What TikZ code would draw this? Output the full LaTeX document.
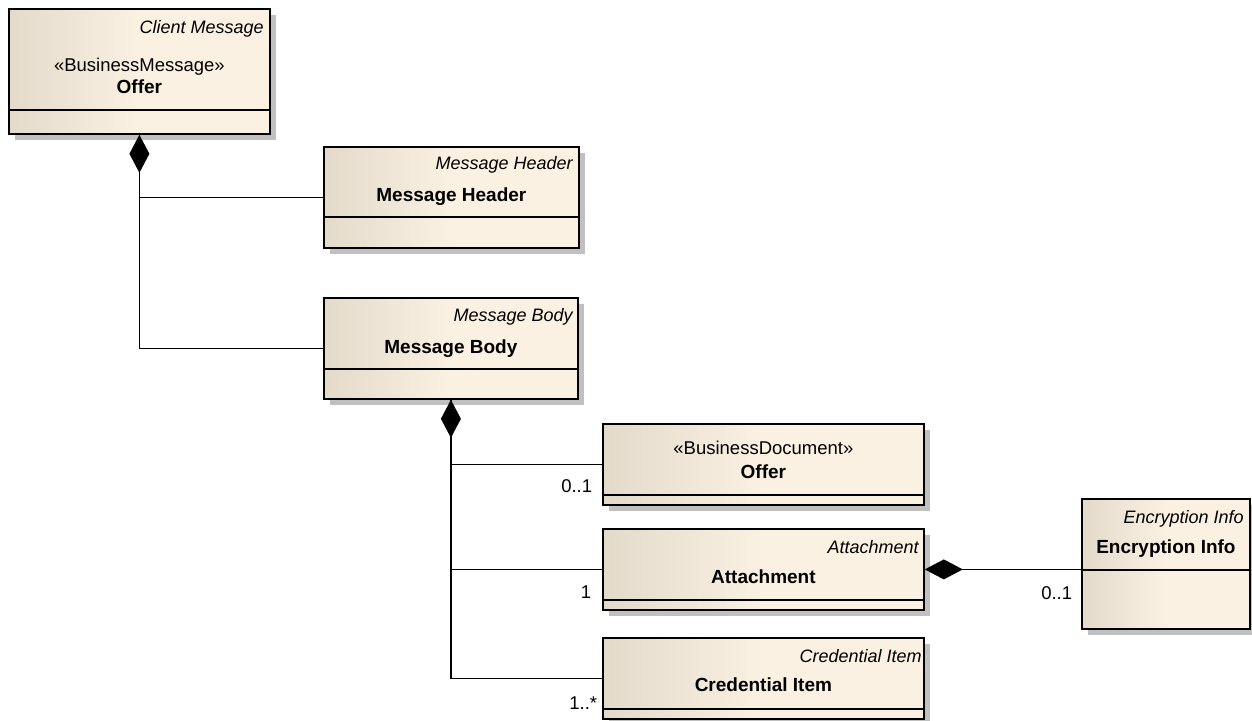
\documentclass[tikz,border=0pt]{standalone}
\usepackage{fontspec}
\setmainfont{Liberation Sans}
\usetikzlibrary{positioning,arrows.meta,shadows}
\definecolor{boxL}{RGB}{228,218,202}
\definecolor{boxR}{RGB}{251,241,227}
\definecolor{shadowgrey}{RGB}{192,192,192}

\begin{document}
\begin{tikzpicture}[
    x=1pt, y=-1pt,
    umlbox/.style={draw, line width=1.8pt, inner sep=0pt, anchor=north west,
        left color=boxL, right color=boxR, middle color=boxR,
        general shadow={fill=shadowgrey, shadow xshift=6pt, shadow yshift=-6pt}},
    divider/.style={line width=1.8pt},
    tag/.style={font=\fontsize{18}{20}\selectfont\itshape, inner sep=0pt, anchor=base east},
    cname/.style={font=\fontsize{19}{21}\selectfont\bfseries, inner sep=0pt, anchor=base},
    stereo/.style={font=\fontsize{18.5}{21}\selectfont, inner sep=0pt, anchor=base},
    mult/.style={font=\fontsize{18.5}{21}\selectfont, inner sep=0pt, anchor=base east},
    link/.style={line width=1.7pt},
    compose/.style={link, {Diamond[length=38pt, width=20pt]}-}
]
\useasboundingbox (0,0) rectangle (1252,720);

% classes
\node[umlbox, minimum width=261pt, minimum height=125pt] (client) at (8,8) {};
\node[umlbox, minimum width=255pt, minimum height=101pt] (header) at (323,146) {};
\node[umlbox, minimum width=254pt, minimum height=101pt] (body) at (323,297) {};
\node[umlbox, minimum width=321pt, minimum height=81pt] (offer) at (602,423) {};
\node[umlbox, minimum width=321pt, minimum height=81pt] (attach) at (602,528) {};
\node[umlbox, minimum width=321pt, minimum height=81pt] (cred) at (602,637) {};
\node[umlbox, minimum width=168pt, minimum height=130pt] (enc) at (1081,498) {};

% compartments
\draw[divider] ([yshift=25pt]client.south west) -- ([yshift=25pt]client.south east);
\draw[divider] ([yshift=32pt]header.south west) -- ([yshift=32pt]header.south east);
\draw[divider] ([yshift=31pt]body.south west) -- ([yshift=31pt]body.south east);
\draw[divider] ([yshift=11pt]offer.south west) -- ([yshift=11pt]offer.south east);
\draw[divider] ([yshift=11pt]attach.south west) -- ([yshift=11pt]attach.south east);
\draw[divider] ([yshift=11pt]cred.south west) -- ([yshift=11pt]cred.south east);
\draw[divider] ([yshift=60pt]enc.south west) -- ([yshift=60pt]enc.south east);

% texts
\node[tag] (clientTag) at ([xshift=-7pt,yshift=-25pt]client.north east) {Client Message};
\node[stereo] (clientSt) at ([yshift=-63pt]client.north) {«BusinessMessage»};
\node[cname] (clientName) at ([yshift=-85pt]client.north) {Offer};

\node[tag] (headerTag) at ([xshift=-7pt,yshift=-23pt]header.north east) {Message Header};
\node[cname] (headerName) at ([yshift=-55pt]header.north) {Message Header};

\node[tag] (bodyTag) at ([xshift=-6pt,yshift=-24pt]body.north east) {Message Body};
\node[cname] (bodyName) at ([yshift=-56pt]body.north) {Message Body};

\node[stereo] (offerSt) at ([yshift=-31pt]offer.north) {«BusinessDocument»};
\node[cname] (offerName) at ([yshift=-55pt]offer.north) {Offer};

\node[tag] (attachTag) at ([xshift=-6pt,yshift=-25pt]attach.north east) {Attachment};
\node[cname] (attachName) at ([yshift=-55pt]attach.north) {Attachment};

\node[tag] (credTag) at ([xshift=-3pt,yshift=-25pt]cred.north east) {Credential Item};
\node[cname] (credName) at ([yshift=-54pt]cred.north) {Credential Item};

\node[tag] (encTag) at ([xshift=-7pt,yshift=-25pt]enc.north east) {Encryption Info};
\node[cname] (encName) at ([yshift=-55pt]enc.north) {Encryption Info};

% associations
\draw[link] (client.south) |- (body.west);
\draw[compose] (client.south) |- (header.west);

\draw[link] (body.south) |- (offer.west)
    node[mult, xshift=-9pt, yshift=-28pt] {0..1};
\draw[link] (body.south) |- (attach.west)
    node[mult, xshift=-10pt, yshift=-29pt] {1};
\draw[compose] (body.south) |- (cred.west)
    node[mult, xshift=-4pt, yshift=-31pt] {1..*};

\draw[compose] (attach.east) -- (attach.east -| enc.west)
    node[mult, xshift=-8pt, yshift=-30pt] {0..1};
\end{tikzpicture}
\end{document}
